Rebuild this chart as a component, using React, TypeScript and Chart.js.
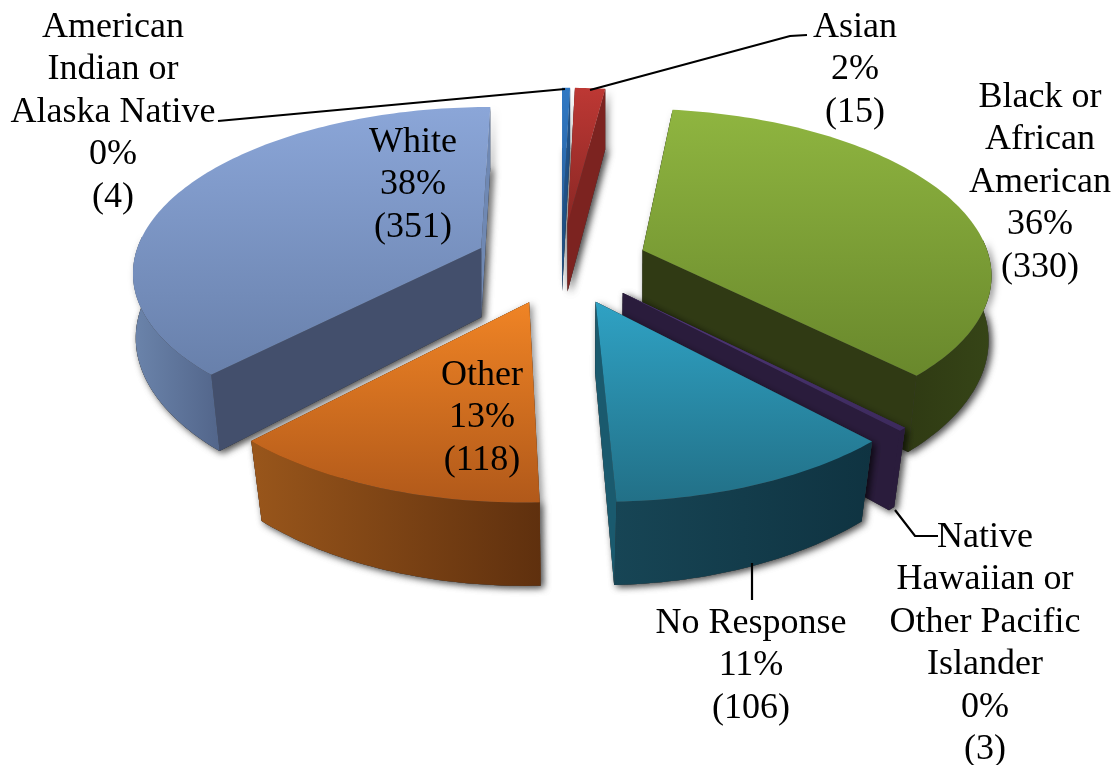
import React, { useEffect, useRef } from "react";
import { Chart, registerables } from "chart.js";

Chart.register(...registerables);

// ---- data, clockwise from 12 o'clock
const categories = [
  "American Indian or Alaska Native",
  "Asian",
  "Black or African American",
  "Native Hawaiian or Other Pacific Islander",
  "No Response",
  "Other",
  "White",
];
const counts = [4, 15, 330, 3, 106, 118, 351];
const percents = ["0%", "2%", "36%", "0%", "11%", "13%", "38%"];
const labelNames = [
  ["American", "Indian or", "Alaska Native"],
  ["Asian"],
  ["Black or", "African", "American"],
  ["Native", "Hawaiian or", "Other Pacific", "Islander"],
  ["No Response"],
  ["Other"],
  ["White"],
];
const explode = [0.25, 0.25, 0.25, 0.25, 0.25, 0.25, 0.25];

// ---- styles
const topColors = [
  ["#3079c4", "#2660a0"],
  ["#bd3834", "#8a2724"],
  ["#8fb540", "#69882c"],
  ["#52397c", "#3c2a5c"],
  ["#2fa2c4", "#227087"],
  ["#f08425", "#b1591a"],
  ["#8ba6d8", "#6880ab"],
];
const wallColors = [
  ["#1f5288", "#1f5288"],
  ["#7c2320", "#7c2320"],
  ["#2f3a13", "#364517"],
  ["#2a1c3c", "#2a1c3c"],
  ["#174555", "#0f3341"],
  ["#99561b", "#5f300e"],
  ["#6b84ab", "#52658a"],
];
const startWall = ["#1f5288", "#7c2320", "#303a14", "#2a1c3c", "#0f3341", "#7a3f12", "#434f6c"];
const endWall = ["#1f5288", "#7c2320", "#303a14", "#2a1c3c", "#1a5a6e", "#7a3f12", "#6f88b3"];

const labelX = [113, 855, 1040, 985, 751, 482, 413];
const labelY = [27.5, 27.5, 97.5, 537.5, 623.5, 375.5, 142.5];
const lineGap = 42.4;
const leaders = [
  [[218, 121], [565, 89]],
  [[807, 35], [790, 36], [590, 90]],
  [[938, 536], [915, 536], [895, 510]],
  [[752, 563], [752, 600]],
];

// ---- projection of the pie plane
const CX = 561;
const CY = 263;
const SX = 348;
const SY = 163;
const PERSP = 0.13;
const DEPTH = 70;

function project(u: number, v: number, bottom: boolean): [number, number] {
  const w = 1 / (1 - PERSP * v);
  let dx = SX * u * w;
  let dy = SY * v * w;
  if (bottom) {
    dx *= Math.min(1, 0.995 - 0.03 * v);
    dy += DEPTH * w;
  }
  return [CX + dx, CY + dy];
}

function fillPoly(ctx: CanvasRenderingContext2D, pts: number[][], fill: any) {
  ctx.beginPath();
  pts.forEach((p, i) => (i ? ctx.lineTo(p[0], p[1]) : ctx.moveTo(p[0], p[1])));
  ctx.closePath();
  ctx.fillStyle = fill;
  ctx.fill();
}

const pie3d = {
  id: "pie3d",
  beforeDatasetsDraw(chart: any) {
    const ctx: CanvasRenderingContext2D = chart.ctx;
    const arcs = chart.getDatasetMeta(0).data;
    const slices = arcs.map((arc: any, i: number) => {
      const { startAngle, endAngle } = arc.getProps(["startAngle", "endAngle"]);
      const d = explode[i];
      const mid = (startAngle + endAngle) / 2;
      return { i, startAngle, endAngle, ox: d * Math.cos(mid), oy: d * Math.sin(mid) };
    });
    const order = [...slices].sort((a, b) => a.oy - b.oy);
    order.forEach((s: any) => {
      const n = Math.max(2, Math.ceil((s.endAngle - s.startAngle) / 0.02));
      const topRim: number[][] = [];
      const botRim: number[][] = [];
      const frontTop: number[][] = [];
      const frontBot: number[][] = [];
      for (let k = 0; k <= n; k++) {
        const a = s.startAngle + ((s.endAngle - s.startAngle) * k) / n;
        const u = s.ox + Math.cos(a);
        const v = s.oy + Math.sin(a);
        const pt = project(u, v, false);
        const pb = project(u, v, true);
        topRim.push(pt);
        botRim.push(pb);
        if (Math.sin(a) > -0.08) {
          frontTop.push(pt);
          frontBot.push(pb);
        }
      }
      const apexT = project(s.ox, s.oy, false);
      const apexB = project(s.ox, s.oy, true);
      const top = [apexT, ...topRim];
      const wall = [...frontTop, ...[...frontBot].reverse()];

      // soft shadow of the whole solid
      ctx.save();
      ctx.shadowColor = "rgba(0,0,0,0.45)";
      ctx.shadowBlur = 7;
      ctx.shadowOffsetX = 3;
      ctx.shadowOffsetY = 2;
      fillPoly(ctx, [apexB, ...botRim], "#444");
      if (wall.length) fillPoly(ctx, wall, "#444");
      fillPoly(ctx, [apexT, apexB, botRim[0], topRim[0]], "#444");
      fillPoly(ctx, [apexT, apexB, botRim[n], topRim[n]], "#444");
      ctx.restore();

      // cut faces, far one first
      const sFace = [apexT, topRim[0], botRim[0], apexB];
      const eFace = [apexT, topRim[n], botRim[n], apexB];
      const faces: [number[][], string][] =
        Math.sin(s.startAngle) < Math.sin(s.endAngle)
          ? [[sFace, startWall[s.i]], [eFace, endWall[s.i]]]
          : [[eFace, endWall[s.i]], [sFace, startWall[s.i]]];
      faces.forEach(([pts, c]) => fillPoly(ctx, pts, c));

      // outer wall, the part that faces the viewer
      if (wall.length) {
        const fx = wall.map((p) => p[0]);
        const gw = ctx.createLinearGradient(Math.min(...fx), 0, Math.max(...fx) + 1, 0);
        gw.addColorStop(0, wallColors[s.i][0]);
        gw.addColorStop(1, wallColors[s.i][1]);
        fillPoly(ctx, wall, gw);
      }

      // top face
      const ys = top.map((p) => p[1]);
      const gt = ctx.createLinearGradient(0, Math.min(...ys), 0, Math.max(...ys));
      gt.addColorStop(0, topColors[s.i][0]);
      gt.addColorStop(1, topColors[s.i][1]);
      fillPoly(ctx, top, gt);
    });
    return false;
  },
  afterDraw(chart: any) {
    const ctx: CanvasRenderingContext2D = chart.ctx;
    ctx.save();
    ctx.strokeStyle = "#000";
    ctx.lineWidth = 2.2;
    leaders.forEach((pts) => {
      ctx.beginPath();
      pts.forEach((p, i) => (i ? ctx.lineTo(p[0], p[1]) : ctx.moveTo(p[0], p[1])));
      ctx.stroke();
    });
    ctx.fillStyle = "#000";
    ctx.font = '36px "Liberation Serif"';
    ctx.textAlign = "center";
    ctx.textBaseline = "middle";
    categories.forEach((_, i) => {
      const lines = [...labelNames[i], percents[i], `(${counts[i]})`];
      lines.forEach((t, k) => ctx.fillText(t, labelX[i], labelY[i] + k * lineGap));
    });
    ctx.restore();
  },
};

export default function App() {
  const ref = useRef<HTMLCanvasElement>(null);
  useEffect(() => {
    const chart = new Chart(ref.current!, {
      type: "pie",
      data: {
        labels: categories,
        datasets: [
          {
            data: counts,
            backgroundColor: topColors.map((c) => c[0]),
            borderWidth: 0,
          },
        ],
      },
      options: {
        responsive: false,
        animation: false,
        plugins: { legend: { display: false }, tooltip: { enabled: false } },
      },
      plugins: [pie3d],
    } as any);
    return () => chart.destroy();
  }, []);
  return (
    <canvas
      ref={ref}
      width={1118}
      height={765}
      style={{ position: "fixed", left: 0, top: 0, width: 1118, height: 765, display: "block", background: "#fff" }}
    />
  );
}
